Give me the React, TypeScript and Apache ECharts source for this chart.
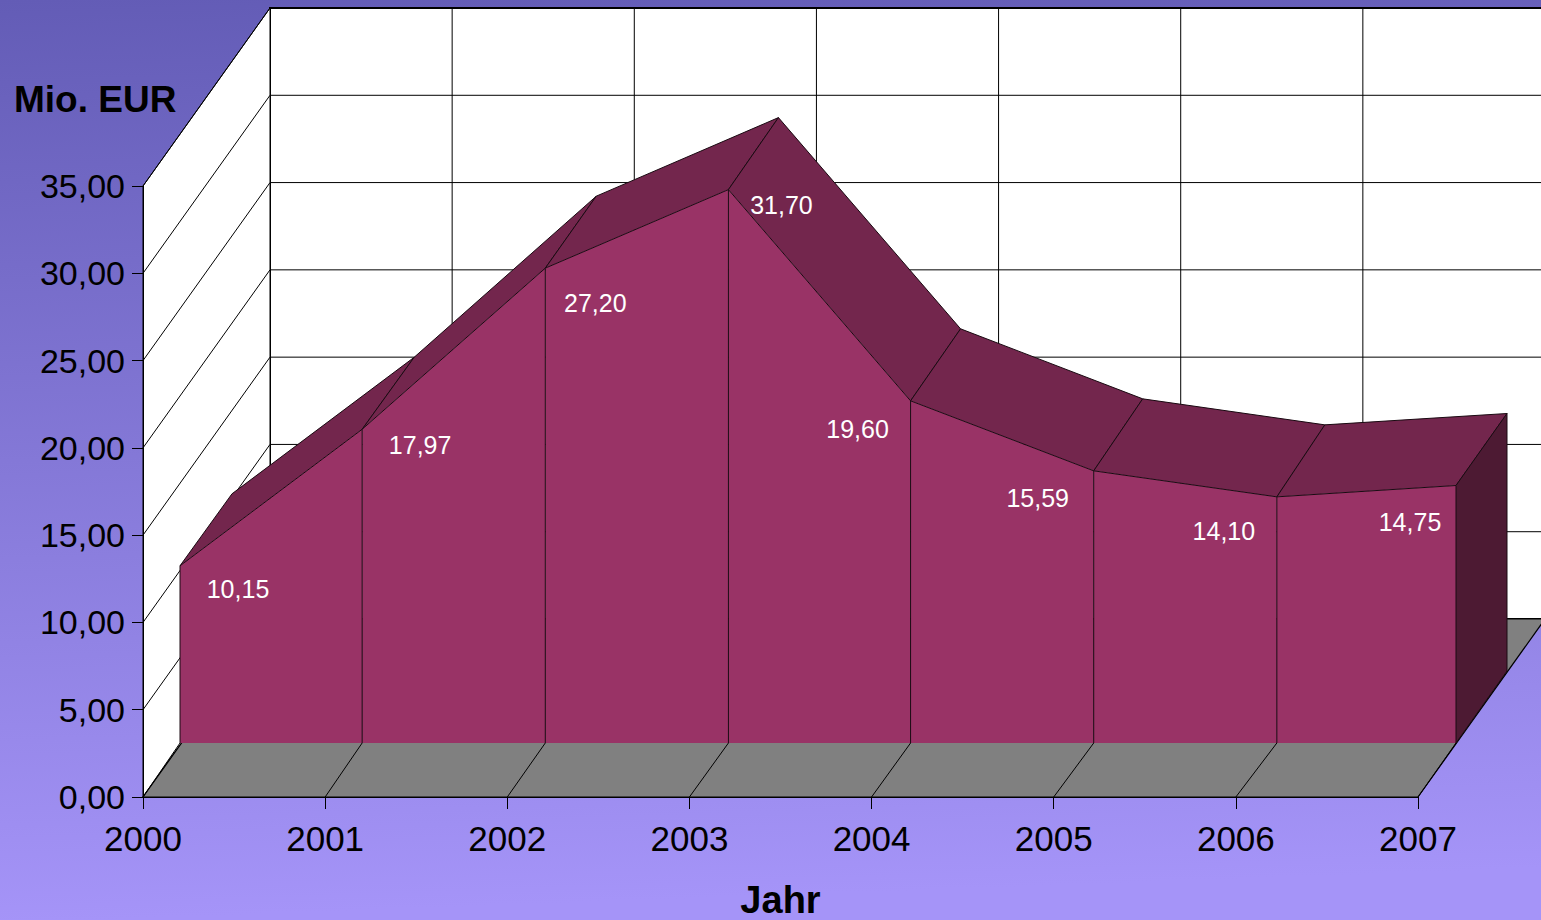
import React, { useEffect, useRef } from "react";
import * as echarts from "echarts";

const years = ["2000", "2001", "2002", "2003", "2004", "2005", "2006", "2007"];
const values = [10.15, 17.97, 27.2, 31.7, 19.6, 15.59, 14.1, 14.75];
const valueLabels = ["10,15", "17,97", "27,20", "31,70", "19,60", "15,59", "14,10", "14,75"];
const yTicks = [0, 5, 10, 15, 20, 25, 30, 35];

// label placement relative to the front top corner of each point (px)
const labelDx = [58, 58, 50, 53, -53, -56, -53, -46];
const labelDy = [23, 16, 35, 15, 28, 27, 34, 36];
// small per-point rounding of the front plane seen in the reference (px)
const frontNudge = [0, 0, 1, 2, 2, 3, 4, 1];

// oblique projection offsets (px)
const FRONT = [37, -54];
const BACK = [89, -126];
const WALL = [127, -178];

const FONT = '"Liberation Sans", Arial, sans-serif';
const EDGE = "#000";

const shift = (p: number[], d: number[]) => [p[0] + d[0], p[1] + d[1]];
const frontOf = (p: number[], i: number) => [p[0] + FRONT[0] + frontNudge[i], p[1] + FRONT[1]];

function wallItem(_: any, api: any) {
  const a = api.coord([0, 0]);
  const b = api.coord([years.length - 1, 0]);
  const t = api.coord([0, 35]);
  const tr = api.coord([years.length - 1, 35]);
  return {
    type: "group",
    children: [
      { type: "polygon", shape: { points: [shift(t, WALL), shift(tr, WALL), shift(b, WALL), shift(a, WALL)] }, style: { fill: "#fff", stroke: EDGE, lineWidth: 2 } },
      { type: "polygon", shape: { points: [a, t, shift(t, WALL), shift(a, WALL)] }, style: { fill: "#fff", stroke: EDGE, lineWidth: 1 } },
      { type: "polygon", shape: { points: [a, b, shift(b, WALL), shift(a, WALL)] }, style: { fill: "#808080", stroke: EDGE, lineWidth: 1.2 } },
    ],
  };
}

function yGridItem(_: any, api: any) {
  const v = api.value(1);
  const p0 = api.coord([0, v]);
  const p1 = api.coord([years.length - 1, v]);
  if (v === 0) return { type: "group", children: [] };
  return {
    type: "group",
    children: [
      { type: "polyline", shape: { points: [p0, shift(p0, WALL), shift(p1, WALL)] }, style: { fill: "none", stroke: EDGE, lineWidth: 1 } },
    ],
  };
}

function xGridItem(_: any, api: any) {
  const i = api.value(0);
  const p0 = api.coord([i, 0]);
  const top = api.coord([i, 35]);
  const f = frontOf(p0, i);
  const children: any[] = [
    { type: "line", shape: { x1: p0[0], y1: p0[1], x2: f[0], y2: f[1] }, style: { stroke: EDGE, lineWidth: 1 } },
  ];
  if (i > 0 && i < years.length - 1) {
    children.push({ type: "line", shape: { x1: p0[0] + WALL[0], y1: p0[1] + WALL[1], x2: top[0] + WALL[0], y2: top[1] + WALL[1] }, style: { stroke: EDGE, lineWidth: 1 } });
  }
  return { type: "group", children };
}

function areaItem(_: any, api: any) {
  const i = api.value(0);
  const top = api.coord([i, api.value(1)]);
  const zero = api.coord([i, 0]);
  const cur = frontOf(top, i);
  const base = frontOf(zero, i);
  const curBack = shift(top, BACK);
  const children: any[] = [];
  if (i < values.length - 1) {
    const nextTop = api.coord([i + 1, values[i + 1]]);
    const next = frontOf(nextTop, i + 1);
    const nextBase = frontOf(api.coord([i + 1, 0]), i + 1);
    children.push(
      { type: "polygon", shape: { points: [cur, next, nextBase, base] }, style: { fill: "#993366" } },
      { type: "polygon", shape: { points: [cur, curBack, shift(nextTop, BACK), next] }, style: { fill: "#73264d", stroke: "#1a0a12", lineWidth: 1 } },
      { type: "line", shape: { x1: cur[0], y1: cur[1], x2: base[0], y2: base[1] }, style: { stroke: "#1a0a12", lineWidth: 1 } }
    );
  } else {
    children.push(
      { type: "polygon", shape: { points: [cur, curBack, shift(zero, BACK), base] }, style: { fill: "#4d1a33", stroke: "#1a0a12", lineWidth: 1 } }
    );
  }
  return { type: "group", children };
}

function labelItem(_: any, api: any) {
  const i = api.value(0);
  const p = frontOf(api.coord([i, api.value(1)]), i);
  return {
    type: "text",
    x: p[0] + labelDx[i],
    y: p[1] + labelDy[i],
    style: { text: valueLabels[i], fill: "#fff", font: `25px ${FONT}`, align: "center", verticalAlign: "middle" },
  };
}

export default function App() {
  const ref = useRef<HTMLDivElement>(null);
  useEffect(() => {
    document.body.style.margin = "0";
    const chart = echarts.init(ref.current!, null, { renderer: "svg" });
    const points = values.map((v, i) => [i, v]);
    chart.setOption({
      animation: false,
      backgroundColor: {
        type: "linear",
        x: 0,
        y: 0,
        x2: 0.06,
        y2: 1,
        colorStops: [
          { offset: 0, color: "#635cb6" },
          { offset: 1, color: "#a594f8" },
        ],
      },
      title: {
        text: "Mio. EUR",
        left: 9,
        top: 76,
        textStyle: { fontFamily: FONT, fontSize: 37, fontWeight: "bold", color: "#000" },
      },
      grid: { left: 143, right: 123, top: 186, bottom: 123, containLabel: false, outerBoundsMode: "none" },
      xAxis: {
        type: "category",
        data: years,
        boundaryGap: false,
        z: 5,
        name: "Jahr",
        nameLocation: "middle",
        nameGap: 87,
        nameTextStyle: { fontFamily: FONT, fontSize: 38, lineHeight: 32, fontWeight: "bold", color: "#000" },
        axisLine: { lineStyle: { color: "#000", width: 1.2 } },
        axisTick: { length: 12, lineStyle: { color: "#000" } },
        axisLabel: { interval: 0, margin: 24, fontFamily: FONT, fontSize: 35, color: "#000" },
        splitLine: { show: false },
      },
      yAxis: {
        type: "value",
        min: 0,
        max: 35,
        interval: 5,
        z: 5,
        axisLine: { show: true, lineStyle: { color: "#000", width: 1 } },
        axisTick: { show: true, length: 11, lineStyle: { color: "#000" } },
        axisLabel: {
          margin: 18,
          fontFamily: FONT,
          fontSize: 34,
          color: "#000",
          formatter: (v: number) => v.toFixed(2).replace(".", ","),
        },
        splitLine: { show: false },
      },
      series: [
        { type: "custom", name: "walls", renderItem: wallItem, data: [[0, 0]], clip: false, silent: true, z: 1 },
        { type: "custom", name: "yGrid", renderItem: yGridItem, data: yTicks.map((v) => [0, v]), clip: false, silent: true, z: 2 },
        { type: "custom", name: "xGrid", renderItem: xGridItem, data: years.map((_, i) => [i, 0]), clip: false, silent: true, z: 2 },
        { type: "custom", name: "area", renderItem: areaItem, data: points, clip: false, silent: true, z: 3 },
        { type: "custom", name: "labels", renderItem: labelItem, data: points, clip: false, silent: true, z: 4 },
      ],
    });
    return () => chart.dispose();
  }, []);
  return <div ref={ref} style={{ position: "absolute", left: 0, top: 0, width: 1541, height: 920 }} />;
}
